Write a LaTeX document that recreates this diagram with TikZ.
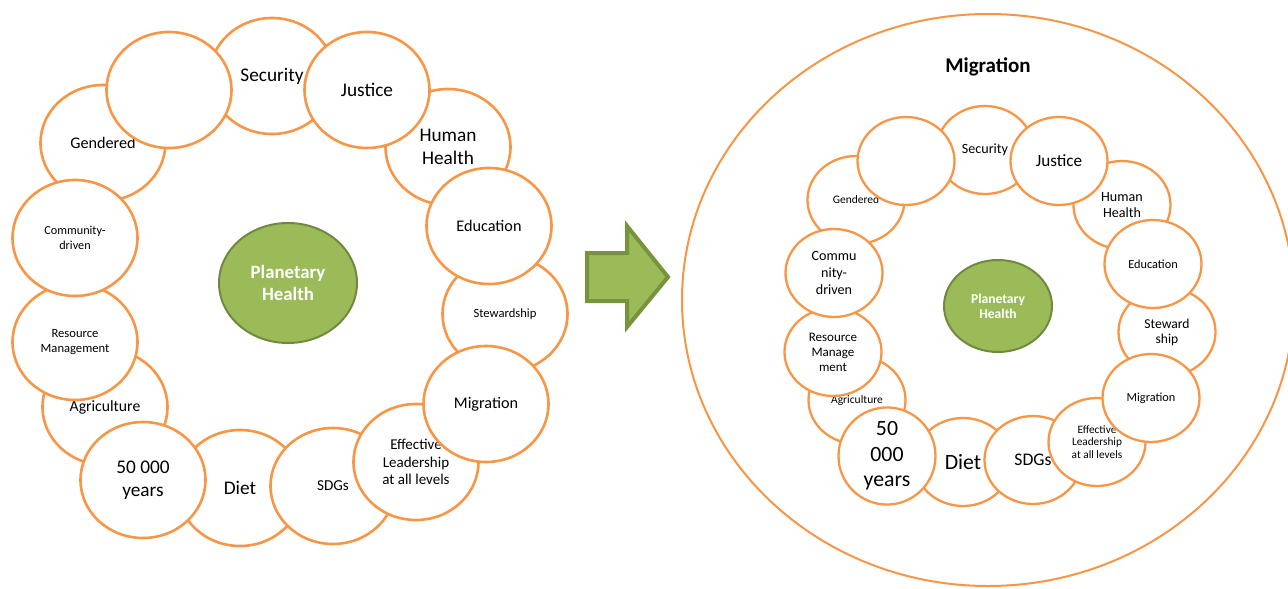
\documentclass[tikz,border=0pt]{standalone}
\usepackage{fontspec}
\setmainfont{Carlito}
\usetikzlibrary{shapes.geometric}
\definecolor{ringorange}{HTML}{F79646}
\definecolor{leafgreen}{HTML}{9BBB59}
\definecolor{leafdark}{HTML}{71893F}
\definecolor{arrowdark}{HTML}{77933C}
\newcommand{\sz}[2]{\fontsize{#1}{#2}\selectfont}
\tikzset{
  bubble/.style={ellipse, draw=ringorange, line width=2.6pt, fill=white, inner sep=0pt, align=center, minimum width=125pt, minimum height=116pt},
  minibubble/.style={bubble, line width=2.3pt, minimum width=97pt, minimum height=88pt},
  core/.style={ellipse, draw=leafdark, fill=leafgreen, line width=2pt, text=white, align=center, inner sep=0pt}
}

\begin{document}
\begin{tikzpicture}[x=1pt,y=-1pt]
\clip (0,0) rectangle (1288,589);
\fill[white] (0,0) rectangle (1288,589);

% left ring
\node[bubble, font=\sz{19.3}{22.5}] (sec) at (272,76) {Security};
\node[bubble, font=\sz{19.3}{22.5}] (hh) at (448,147) {Human\\Health};
\node[bubble, font=\sz{12.6}{14.5}] (stew) at (505,314) {Stewardship};
\node[bubble, font=\sz{19.3}{22.5}] (diet) at (240,488) {Diet};
\node[bubble, font=\sz{15.7}{18}] (agri) at (105,407) {\raisebox{-5pt}{Agriculture}};
\node[bubble, font=\sz{16.2}{19}] (gend) at (103,143) {Gendered};
\node[bubble, font=\sz{15.2}{17.3}] (sdg) at (333,486) {SDGs};
\node[bubble, font=\sz{15}{17.3}] (lead) at (416,462) {Effective\\Leadership\\at all levels};
\node[bubble, font=\sz{12.6}{14.5}] (res) at (75,342) {Resource\\Management};
\node[bubble] (blank) at (169,90) {};
\node[bubble, font=\sz{19.3}{22.5}] (just) at (367,90) {Justice};
\node[bubble, font=\sz{16.2}{19}] (edu) at (489,226) {Education};
\node[bubble, font=\sz{16.2}{19}] (mig) at (486,404) {Migration};
\node[bubble, font=\sz{19.3}{22.7}] (years) at (143,480) {50 000\\years};
\node[bubble, font=\sz{12.2}{14.5}] (comm) at (75,238) {Community-\\driven};
\node[core, minimum width=138pt, minimum height=120pt, font=\bfseries\sz{18.8}{22}] (ph) at (288,283) {Planetary\\Health};

% arrow
\draw[arrowdark, fill=leafgreen, line width=4pt, line join=miter]
  (587,253) -- (627,253) -- (627,226) -- (668,277) -- (627,327) -- (627,301) -- (587,301) -- cycle;

% right ring
\node[ellipse, draw=ringorange, line width=2pt, minimum width=612pt, minimum height=572pt] (zone) at (988,300) {};
\node[font=\bfseries\sz{21}{24}] (title) at (988,67) {Migration};

\node[minibubble, font=\sz{14.1}{16.5}] (sec2) at (985,150) {Security};
\node[minibubble, font=\sz{14.1}{16.7}] (hh2) at (1122,205) {Human\\Health};
\node[minibubble, font=\sz{13.6}{15}] (stew2) at (1167,332) {Steward\\ship};
\node[minibubble, font=\sz{21.8}{25}] (diet2) at (963,462) {Diet};
\node[minibubble, font=\sz{11.5}{13}] (agri2) at (857,400) {Agriculture};
\node[minibubble, font=\sz{11.5}{13}] (gend2) at (856,200) {Gendered};
\node[minibubble, font=\sz{17.7}{20}] (sdg2) at (1033,460) {SDGs};
\node[minibubble, font=\sz{11.3}{12.8}] (lead2) at (1097,442) {Effective\\Leadership\\at all levels};
\node[minibubble, font=\sz{13}{15}] (res2) at (833,352) {Resource\\Manage\\ment};
\node[minibubble] (blank2) at (906,161) {};
\node[minibubble, font=\sz{17.2}{20}] (just2) at (1059,161) {Justice};
\node[minibubble, font=\sz{12.3}{14}] (edu2) at (1153,264) {Education};
\node[minibubble, font=\sz{12.3}{14}] (mig2) at (1151,398) {Migration};
\node[minibubble, font=\sz{21.8}{25.5}] (years2) at (887,456) {50\\000\\years};
\node[minibubble, font=\sz{14.1}{16.7}] (comm2) at (834,273) {Commu\\nity-\\driven};
\node[core, minimum width=108pt, minimum height=92pt, font=\bfseries\sz{13.6}{14.7}] (ph2) at (998,306) {Planetary\\Health};
\end{tikzpicture}
\end{document}
